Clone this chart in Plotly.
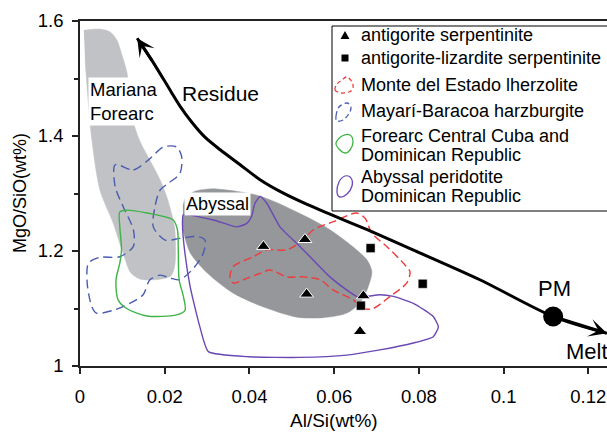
import plotly.graph_objects as go

# ---------------- data ----------------
# Mariana Forearc field (light grey)
mariana_x = [0.0009, 0.0047, 0.0071, 0.0087, 0.0099, 0.0111, 0.0118, 0.0128, 0.0142, 0.0165,
             0.0189, 0.0205, 0.0217, 0.0224, 0.0224, 0.0215, 0.0189, 0.0142, 0.0120, 0.0099,
             0.0078, 0.0047, 0.0028, 0.0019, 0.0012]
mariana_y = [1.584, 1.586, 1.581, 1.567, 1.541, 1.510, 1.463, 1.419, 1.390, 1.358,
             1.324, 1.294, 1.263, 1.237, 1.176, 1.157, 1.151, 1.151, 1.162, 1.202,
             1.249, 1.306, 1.393, 1.463, 1.532]

# Abyssal field (dark grey)
abyssal_x = [0.0243, 0.0250, 0.0272, 0.0307, 0.0347, 0.0418, 0.0465, 0.0536, 0.0590, 0.0645,
             0.0678, 0.0689, 0.0680, 0.0661, 0.0630, 0.0574, 0.0512, 0.0432, 0.0361, 0.0300,
             0.0260, 0.0243]
abyssal_y = [1.277, 1.294, 1.304, 1.308, 1.306, 1.297, 1.284, 1.259, 1.237, 1.207,
             1.184, 1.164, 1.137, 1.110, 1.092, 1.084, 1.085, 1.103, 1.127, 1.162,
             1.197, 1.237]

# Mayari-Baracoa harzburgite (blue dashed)
mayari_x = [0.0083, 0.0126, 0.0161, 0.0197, 0.0228, 0.0240, 0.0236, 0.0209, 0.0189, 0.0177,
            0.0173, 0.0201, 0.0236, 0.0279, 0.0295, 0.0291, 0.0268, 0.0236, 0.0213, 0.0189,
            0.0165, 0.0149, 0.0118, 0.0079, 0.0039, 0.0028, 0.0017, 0.0020, 0.0047, 0.0094,
            0.0126, 0.0126, 0.0102, 0.0083]
mayari_y = [1.350, 1.341, 1.358, 1.381, 1.381, 1.364, 1.335, 1.318, 1.306, 1.277,
            1.242, 1.219, 1.222, 1.225, 1.219, 1.196, 1.170, 1.150, 1.153, 1.158,
            1.150, 1.124, 1.109, 1.097, 1.092, 1.103, 1.144, 1.179, 1.189, 1.190,
            1.208, 1.237, 1.277, 1.312]

# Forearc Central Cuba and Dominican Republic (green)
forearc_x = [0.0094, 0.0110, 0.0158, 0.0220, 0.0230, 0.0232, 0.0234, 0.0244, 0.0248, 0.0228,
             0.0158, 0.0110, 0.0090, 0.0085, 0.0094, 0.0098, 0.0094]
forearc_y = [1.268, 1.271, 1.266, 1.254, 1.237, 1.202, 1.150, 1.121, 1.097, 1.089,
             1.087, 1.100, 1.115, 1.150, 1.179, 1.202, 1.242]

# Monte del Estado lherzolite (red dashed)
monte_x = [0.0354, 0.0362, 0.0409, 0.0441, 0.0488, 0.0527, 0.0551, 0.0598, 0.0653, 0.0673,
           0.0689, 0.0724, 0.0763, 0.0779, 0.0771, 0.0732, 0.0692, 0.0669, 0.0645, 0.0598,
           0.0567, 0.0527, 0.0488, 0.0449, 0.0425, 0.0386, 0.0362]
monte_y = [1.155, 1.173, 1.190, 1.202, 1.202, 1.219, 1.237, 1.251, 1.266, 1.257,
           1.231, 1.208, 1.179, 1.164, 1.144, 1.121, 1.100, 1.100, 1.115, 1.132,
           1.150, 1.155, 1.155, 1.167, 1.161, 1.150, 1.144]

# Abyssal peridotite Dominican Republic (purple)
abyssal_dr_x = [0.0244, 0.0315, 0.0370, 0.0394, 0.0405, 0.0413, 0.0425, 0.0441, 0.0472, 0.0519,
                0.0551, 0.0590, 0.0630, 0.0653, 0.0677, 0.0708, 0.0740, 0.0787, 0.0834, 0.0846,
                0.0834, 0.0787, 0.0708, 0.0630, 0.0519, 0.0401, 0.0303, 0.0283, 0.0260, 0.0246,
                0.0242]
abyssal_dr_y = [1.263, 1.254, 1.242, 1.248, 1.260, 1.283, 1.295, 1.283, 1.242, 1.208,
                1.184, 1.155, 1.132, 1.121, 1.121, 1.124, 1.121, 1.109, 1.086, 1.068,
                1.051, 1.040, 1.028, 1.019, 1.015, 1.016, 1.025, 1.068, 1.138, 1.207,
                1.245]

# samples
antigorite_x = [0.0433, 0.0531, 0.0535, 0.0669, 0.0661]
antigorite_y = [1.208, 1.220, 1.125, 1.122, 1.060]
antlz_x = [0.0686, 0.0809, 0.0663]
antlz_y = [1.205, 1.143, 1.105]
pm_x = [0.1117]
pm_y = [1.086]

# melting trend arrow (Residue <- -> Melt)
trend_x = [0.0135, 0.0172, 0.0215, 0.0236, 0.0264, 0.0295, 0.0331, 0.0378, 0.0425, 0.0479,
           0.0536, 0.0590, 0.0678, 0.0786, 0.0944, 0.1117, 0.1244]
trend_y = [1.570, 1.529, 1.477, 1.452, 1.424, 1.398, 1.376, 1.350, 1.324, 1.301,
           1.281, 1.264, 1.237, 1.202, 1.150, 1.086, 1.057]

x_ticks = [0, 0.02, 0.04, 0.06, 0.08, 0.1, 0.12]
x_ticktext = ["0", "0.02", "0.04", "0.06", "0.08", "0.1", "0.12"]
y_ticks = [1.0, 1.2, 1.4, 1.6]
y_ticktext = ["1", "1.2", "1.4", "1.6"]

legend_lines = ["antigorite serpentinite", "antigorite-lizardite serpentinite",
                "Monte del Estado lherzolite", "Mayarí-Baracoa harzburgite",
                "Forearc Central Cuba and", "Dominican Republic",
                "Abyssal peridotite", "Dominican Republic"]

# ---------------- styling ----------------
FONT = "Liberation Sans, Arial, sans-serif"
LIGHT = "#c0c2c5"
DARK = "#95979b"
RED = "#ee3b3b"
BLUE = "#4a5cb0"
GREEN = "#3db446"
PURPLE = "#6a48b4"

W, H = 607, 432
L, R, T, B = 80, 607, 21, 366


def px(x):
    return (x - L) / (R - L)


def py(y):
    return (B - y) / (B - T)


def smooth_path(pts):
    P = [(px(a), py(b)) for a, b in pts]
    n = len(P)
    s = "M%.5f,%.5f" % P[0]
    for i in range(n):
        p0, p1, p2, p3 = P[i - 1], P[i], P[(i + 1) % n], P[(i + 2) % n]
        c1 = (p1[0] + (p2[0] - p0[0]) / 6, p1[1] + (p2[1] - p0[1]) / 6)
        c2 = (p2[0] - (p3[0] - p1[0]) / 6, p2[1] - (p3[1] - p1[1]) / 6)
        s += " C%.5f,%.5f %.5f,%.5f %.5f,%.5f" % (c1 + c2 + p2)
    return s + " Z"


fig = go.Figure()

fig.add_trace(go.Scatter(x=mariana_x, y=mariana_y, mode="lines", fill="toself",
                         fillcolor=LIGHT, line=dict(color=LIGHT, width=0.5, shape="spline", smoothing=0.8),
                         hoverinfo="skip", showlegend=False))
fig.add_trace(go.Scatter(x=abyssal_x, y=abyssal_y, mode="lines", fill="toself",
                         fillcolor=DARK, line=dict(color=DARK, width=0.5, shape="spline", smoothing=0.8),
                         hoverinfo="skip", showlegend=False))


def loop(xs, ys, color, dash, smoothing=0.8):
    fig.add_trace(go.Scatter(x=xs + xs[:1], y=ys + ys[:1], mode="lines",
                             line=dict(color=color, width=1.4, dash=dash, shape="spline", smoothing=smoothing),
                             hoverinfo="skip", showlegend=False))


loop(mayari_x, mayari_y, BLUE, "9px,5px")
loop(forearc_x, forearc_y, GREEN, "solid")
loop(abyssal_dr_x, abyssal_dr_y, PURPLE, "solid", 0.5)
loop(monte_x, monte_y, RED, "8px,4px")

# trend line
fig.add_trace(go.Scatter(x=trend_x, y=trend_y, mode="lines",
                         line=dict(color="black", width=3, shape="spline", smoothing=0.8),
                         hoverinfo="skip", showlegend=False))

fig.add_trace(go.Scatter(x=antigorite_x, y=antigorite_y, mode="markers",
                         marker=dict(symbol="triangle-up", size=12, color="black",
                                     line=dict(color="white", width=1)),
                         hoverinfo="skip", showlegend=False))
fig.add_trace(go.Scatter(x=antlz_x, y=antlz_y, mode="markers",
                         marker=dict(symbol="square", size=9, color="black",
                                     line=dict(color="white", width=0.5)),
                         hoverinfo="skip", showlegend=False))
fig.add_trace(go.Scatter(x=pm_x, y=pm_y, mode="markers",
                         marker=dict(symbol="circle", size=20, color="black"),
                         hoverinfo="skip", showlegend=False))

annotations = []
# arrow heads
annotations.append(dict(x=trend_x[0], y=trend_y[0], ax=trend_x[1], ay=trend_y[1],
                        xref="x", yref="y", axref="x", ayref="y", text="", showarrow=True,
                        arrowhead=3, arrowsize=1.0, arrowwidth=3, arrowcolor="black", standoff=0))
annotations.append(dict(x=trend_x[-1], y=trend_y[-1], ax=trend_x[-2], ay=trend_y[-2],
                        xref="x", yref="y", axref="x", ayref="y", text="", showarrow=True,
                        arrowhead=3, arrowsize=1.0, arrowwidth=3, arrowcolor="black", standoff=0))


def label(xp, yp, text, size=17, xanchor="center", bg=None, align="center"):
    d = dict(x=px(xp), y=py(yp), xref="paper", yref="paper", text=text, showarrow=False,
             xanchor=xanchor, yanchor="middle", align=align,
             font=dict(family=FONT, size=size, color="black"))
    if bg:
        d.update(bgcolor=bg, borderpad=1)
    annotations.append(d)


label(88, 101, "Mariana<br>Forearc", 18.5, "left", "white", "left")
label(184, 204, "Abyssal", 18, "left", "white")
label(220, 93, "Residue", 21)
label(554, 288, "PM", 22)
label(587, 351, "Melt", 22)

# legend texts
leg_y = [35, 58, 85, 111, 136, 155, 177, 196]
for t, yy in zip(legend_lines, leg_y):
    label(359, yy, t, 18, "left", None, "left")

# axis titles
annotations.append(dict(x=px(334), y=py(420), xref="paper", yref="paper", text="Al/Si(wt%)",
                        showarrow=False, xanchor="center", yanchor="middle",
                        font=dict(family=FONT, size=19, color="black")))
annotations.append(dict(x=px(20), y=py(193), xref="paper", yref="paper", text="MgO/SiO(wt%)",
                        showarrow=False, xanchor="center", yanchor="middle", textangle=-90,
                        font=dict(family=FONT, size=18, color="black")))

shapes = []
# legend box
shapes.append(dict(type="rect", xref="paper", yref="paper", x0=px(332), x1=px(612),
                   y0=py(211), y1=py(26), line=dict(color="black", width=1), fillcolor="white"))
# legend icons
shapes.append(dict(type="path", xref="paper", yref="paper",
                   path="M%.5f,%.5f L%.5f,%.5f L%.5f,%.5f Z" % (px(345), py(31), px(349.5), py(39), px(340.5), py(39)),
                   fillcolor="black", line=dict(width=0)))
shapes.append(dict(type="rect", xref="paper", yref="paper", x0=px(341.5), x1=px(348.5),
                   y0=py(61.5), y1=py(54.5), fillcolor="black", line=dict(width=0)))
shapes.append(dict(type="path", xref="paper", yref="paper",
                   path=smooth_path([(335, 90), (337, 84), (342, 80), (347, 77), (352, 82), (353, 88), (349, 92), (341, 93)]),
                   line=dict(color=RED, width=1.3, dash="4px,3px")))
shapes.append(dict(type="path", xref="paper", yref="paper",
                   path=smooth_path([(336, 116), (339, 107), (347, 103), (351, 108), (348, 115), (343, 120), (337, 121)]),
                   line=dict(color=BLUE, width=1.3, dash="5px,3px")))
shapes.append(dict(type="path", xref="paper", yref="paper",
                   path=smooth_path([(336, 143), (342, 136), (350, 135), (353, 142), (350, 150), (345, 153), (339, 149)]),
                   line=dict(color=GREEN, width=1.3)))
shapes.append(dict(type="path", xref="paper", yref="paper",
                   path=smooth_path([(337, 192), (339, 182), (345, 176), (351, 178), (352, 186), (347, 194), (340, 197)]),
                   line=dict(color=PURPLE, width=1.3)))

fig.update_layout(
    width=W, height=H,
    margin=dict(l=L, r=W - R, t=T, b=H - B),
    paper_bgcolor="white", plot_bgcolor="white",
    font=dict(family=FONT, size=18, color="black"),
    showlegend=False,
    annotations=annotations,
    shapes=shapes,
    xaxis=dict(range=[0, 0.12441], tickvals=x_ticks, ticktext=x_ticktext, showgrid=False, zeroline=False,
               showline=True, linecolor="#222", linewidth=1.5, mirror=True,
               ticks="outside", ticklen=6, tickwidth=1.5, tickcolor="#222",
               tickfont=dict(family=FONT, size=18.5, color="black"), ticklabelstandoff=7),
    yaxis=dict(range=[1, 1.6], tickvals=y_ticks, ticktext=y_ticktext, showgrid=False, zeroline=False,
               showline=True, linecolor="#222", linewidth=1.5,
               ticks="outside", ticklen=6, tickwidth=1.5, tickcolor="#222",
               minor=dict(tickvals=[1.1, 1.3, 1.5], ticks="outside", ticklen=4, tickwidth=1.5, tickcolor="#222"),
               tickfont=dict(family=FONT, size=18.5, color="black"), ticklabelstandoff=5),
)

fig.write_html("out.html")
